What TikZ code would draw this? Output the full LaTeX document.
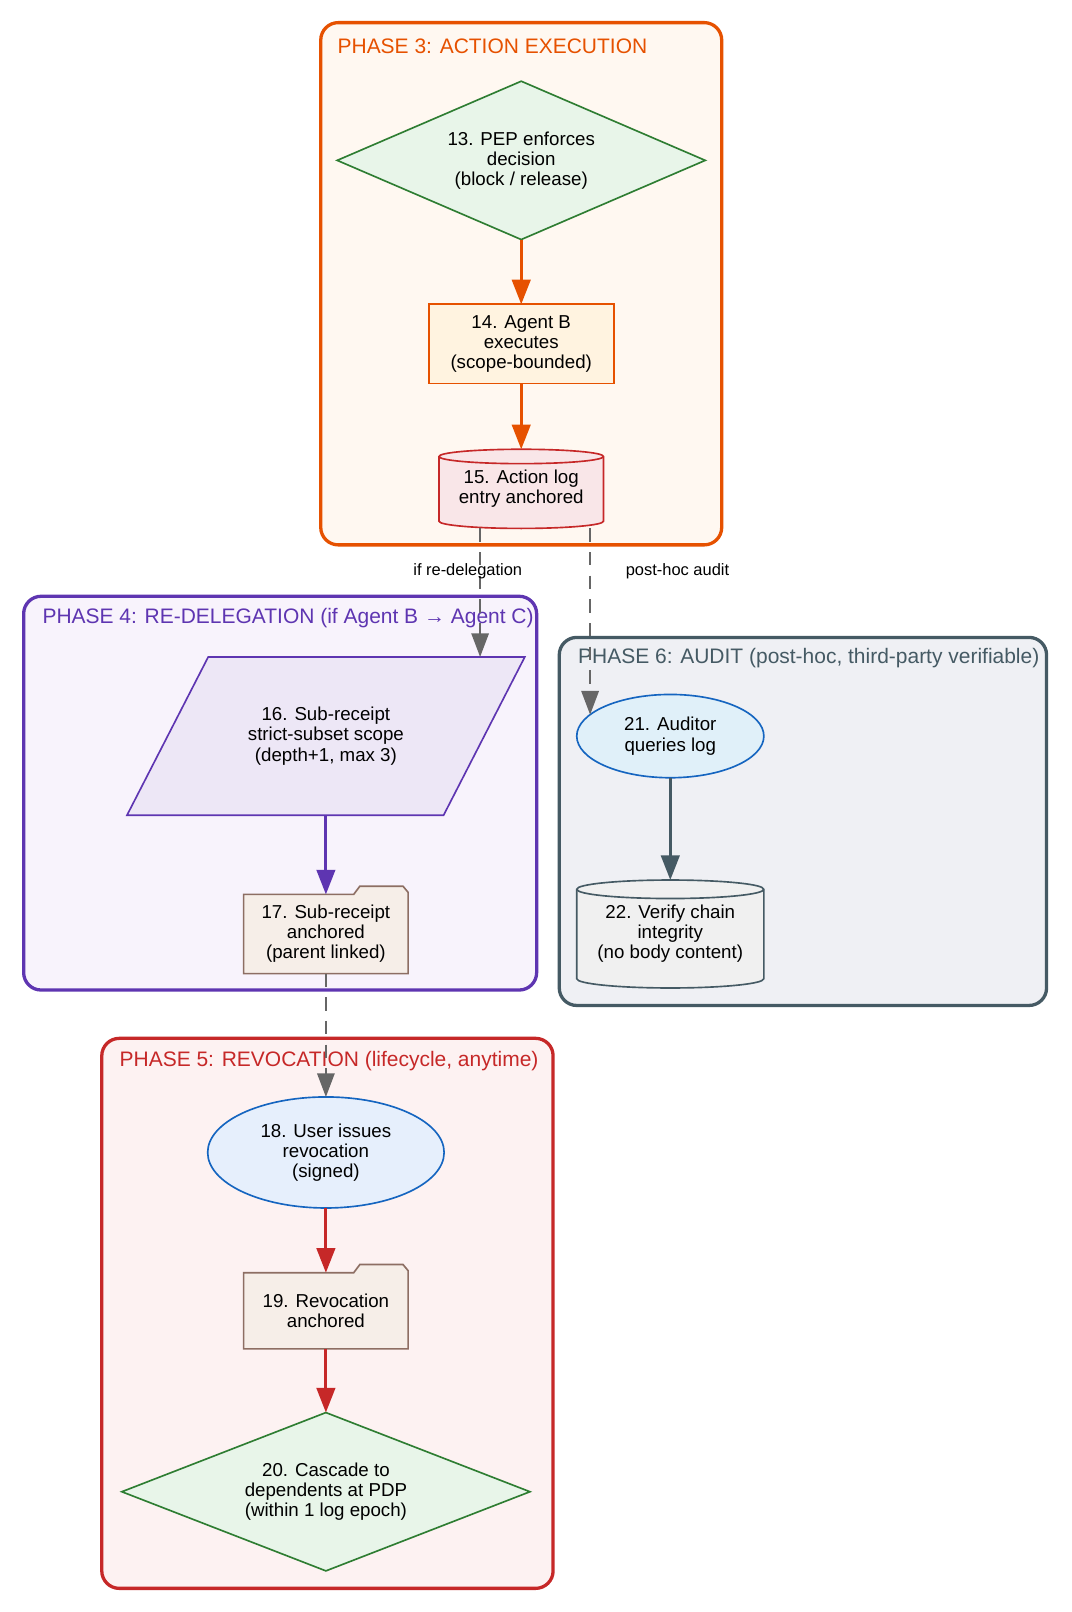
\documentclass[tikz,border=0pt]{standalone}
\usepackage{fontspec}
\setmainfont{Liberation Sans}
\usepackage{xcolor}
\usepackage{tikz}
\usetikzlibrary{arrows.meta,positioning,shapes.geometric,calc,backgrounds}
\definecolor{exe}{HTML}{E65100}
\definecolor{exebg}{HTML}{FFF8F1}
\definecolor{redel}{HTML}{5E35B1}
\definecolor{redelbg}{HTML}{F8F3FC}
\definecolor{revo}{HTML}{C62828}
\definecolor{revobg}{HTML}{FDF2F2}
\definecolor{aud}{HTML}{455A64}
\definecolor{audbg}{HTML}{EFF0F4}
\definecolor{pdp}{HTML}{2E7D32}
\definecolor{pdpbg}{HTML}{E8F5E9}
\definecolor{runbg}{HTML}{FFF3E0}
\definecolor{logbg}{HTML}{F9E6E8}
\definecolor{subbg}{HTML}{EDE7F6}
\definecolor{anc}{HTML}{8D6E63}
\definecolor{ancbg}{HTML}{F6EEE8}
\definecolor{usr}{HTML}{1565C0}
\definecolor{usrbg}{HTML}{E6EFFC}
\definecolor{qrybg}{HTML}{E0F0F9}
\definecolor{chkbg}{HTML}{F0F0F0}
\definecolor{lnk}{HTML}{666666}
\newcommand{\nfont}{\fontsize{9.1}{9.8}\selectfont}
\newcommand{\tfont}{\fontsize{10.2}{12}\selectfont}
\newcommand{\efont}{\fontsize{8}{9.6}\selectfont}
\newcommand{\drum}[5]{%
  \filldraw[draw=#4,fill=#5,line width=0.8pt] ([yshift=-#3]#1.north west) -- ([yshift=#3]#1.south west)
    arc[start angle=180,end angle=360,x radius=#2,y radius=#3] -- ([yshift=-#3]#1.north east)
    arc[start angle=0,end angle=180,x radius=#2,y radius=#3] -- cycle;
  \draw[draw=#4,line width=0.8pt] ([yshift=-#3]#1.north west) arc[start angle=180,end angle=360,x radius=#2,y radius=#3];}
\newcommand{\foldtab}[1]{%
  \filldraw[draw=anc,fill=ancbg,line width=0.8pt] (#1.south west) -- (#1.north west) -- ([xshift=-26.5pt]#1.north east)
    -- ++(3pt,4pt) -- ([xshift=-2.5pt,yshift=4pt]#1.north east) -- ([yshift=1pt]#1.north east) -- (#1.south east) -- cycle;}
\tikzset{
  phase/.style={draw=#1,fill=#1bg,line width=1.6pt,rounded corners=8.5pt},
  ptitle/.style={text=#1,anchor=west,font=\tfont,inner sep=0pt},
  txt/.style={align=center,font=\nfont,inner sep=0pt,outer sep=0pt},
  pep/.style={txt,diamond,aspect=2.3,draw=pdp,fill=pdpbg,line width=0.8pt},
  run/.style={txt,rectangle,draw=exe,fill=runbg,line width=0.8pt,minimum width=90pt,minimum height=38.5pt},
  sub/.style={txt,trapezium,trapezium left angle=47,trapezium right angle=133,trapezium stretches=true,
              draw=redel,fill=subbg,line width=0.8pt},
  anch/.style={txt,rectangle,minimum width=80pt},
  evt/.style={txt,ellipse,draw=usr,fill=#1,line width=0.8pt},
  flow/.style={-{Triangle[length=12pt,width=9pt]},line width=1.4pt,draw=#1},
  link/.style={-{Triangle[length=11.5pt,width=8.5pt]},line width=0.8pt,draw=lnk,dash pattern=on 6.5pt off 5pt},
  elbl/.style={font=\efont,inner sep=0pt},
}
\begin{document}
\begin{tikzpicture}[x=0.5pt,y=-0.5pt]
  \useasboundingbox (0,0) rectangle (1042,1568);
  \begin{scope}[on background layer]
    \fill[white] (0,0) rectangle (1042,1568);
    \draw[phase=exe] (312,22) rectangle (702,530);
    \draw[phase=redel] (23,580) rectangle (522,963);
    \draw[phase=revo] (99,1010) rectangle (538,1545);
    \draw[phase=aud] (544,620) rectangle (1018,978);
  \end{scope}
  \node[ptitle=exe] (t3) at (328,45) {PHASE 3: ACTION EXECUTION};
  \node[ptitle=redel] (t4) at (41,601) {PHASE 4: RE-DELEGATION (if Agent B → Agent C)};
  \node[ptitle=revo] (t5) at (116,1032) {PHASE 5: REVOCATION (lifecycle, anytime)};
  \node[ptitle=aud] (t6) at (562,640) {PHASE 6: AUDIT (post-hoc, third-party verifiable)};
  \node[pep,minimum width=179pt,minimum height=77pt] (d13) at (507,156) {13. PEP enforces\\decision\\(block / release)};
  \node[run] (b14) at (507,334.5) {14. Agent B\\executes\\(scope-bounded)};
  \node[txt,minimum width=80pt,minimum height=38.5pt] (c15) at (507,475.5) {15. Action log\\entry anchored};
  \node[sub,minimum width=193.5pt,minimum height=77pt] (p16) at (317,716) {16. Sub-receipt\\strict-subset scope\\(depth+1, max 3)};
  \node[anch,minimum height=38.5pt] (f17) at (317,908.5) {17. Sub-receipt\\anchored\\(parent linked)};
  \node[evt=usrbg,minimum width=115pt,minimum height=54pt] (e18) at (317,1121) {18. User issues\\revocation\\(signed)};
  \node[anch,minimum height=37pt] (f19) at (317,1275) {19. Revocation\\anchored};
  \node[pep,minimum width=198.5pt,minimum height=77pt] (d20) at (317,1451) {20. Cascade to\\dependents at PDP\\(within 1 log epoch)};
  \node[evt=qrybg,minimum width=91pt,minimum height=40.5pt] (e21) at (652,716) {21. Auditor\\queries log};
  \node[txt,minimum width=91pt,minimum height=52.5pt] (c22) at (652,908.5) {22. Verify chain\\integrity\\(no body content)};
  \begin{scope}[on background layer]
    \drum{c15}{40pt}{3.5pt}{revo}{logbg}
    \drum{c22}{45.5pt}{4.5pt}{aud}{chkbg}
    \foldtab{f17}
    \foldtab{f19}
  \end{scope}
  \draw[flow=exe] (d13) -- (b14);
  \draw[flow=exe] (b14) -- (c15);
  \coordinate (sr) at ($(c15.south)+(-20pt,0)$);
  \coordinate (ph) at ($(c15.south)+(33.5pt,0)$);
  \draw[link] (sr) -- (p16.north -| sr);
  \draw[link] (ph) -- (ph |- e21.165);
  \node[elbl] (l16) at (455,556) {if re-delegation};
  \node[elbl] (l21) at (659,556) {post-hoc audit};
  \draw[flow=redel] (p16) -- (f17);
  \draw[link] (f17) -- (e18);
  \draw[flow=revo] (e18) -- (f19);
  \draw[flow=revo] (f19) -- (d20);
  \draw[flow=aud] (e21) -- (c22);
\end{tikzpicture}
\end{document}
